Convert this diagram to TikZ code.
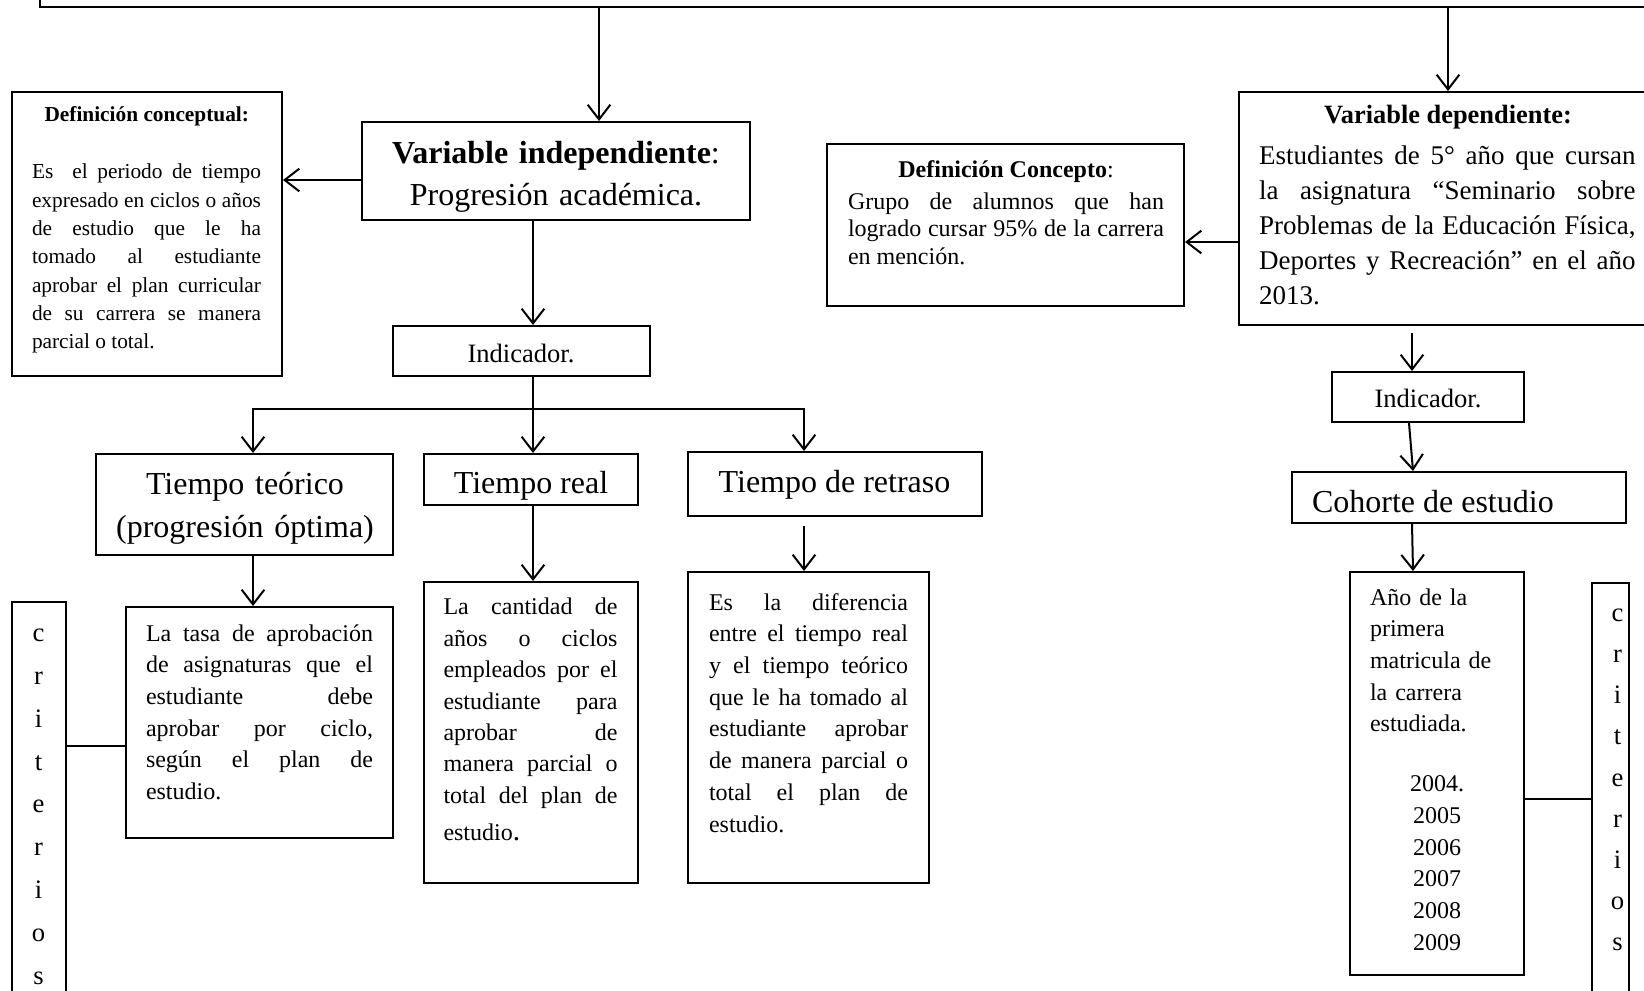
\documentclass[tikz,border=0pt]{standalone}
\usepackage{fontspec}
\setmainfont{Liberation Serif}
\usetikzlibrary{arrows.meta,fit}

% font size and leading, in pt
\newcommand\fsz[2]{\fontsize{#1}{#2}\selectfont}

\begin{document}
\tolerance=10000 \hyphenpenalty=10000 \parindent=0pt
\begin{tikzpicture}[x=0.75pt,y=-0.75pt,
  box/.style={draw,line width=1.5pt,inner sep=0pt,rectangle},
  arr/.style={line width=1.5pt,-{Straight Barb[length=11pt,width=17pt]}},
  lnk/.style={line width=1.5pt},
  txt/.style={inner sep=0pt,outer sep=0pt},
  para/.style={txt,anchor=north west,align=justify,text width=#1},
  vert/.style={txt,anchor=north,align=center,font=\fsz{20}{#1}}]

\useasboundingbox (0,0) rectangle (1644,990);

% ---------- frames ----------
\node[box,fit={(40,-60)(1700,7.3)}]      (top)   {};
\node[box,fit={(11.5,92)(282,376)}]      (defc)  {};
\node[box,fit={(362,122)(750,220)}]      (vi)    {};
\node[box,fit={(393,326)(650,376)}]      (ind1)  {};
\node[box,fit={(96,454)(393,555)}]       (tt)    {};
\node[box,fit={(424,454)(638,505)}]      (tr)    {};
\node[box,fit={(688,452)(982,516)}]      (tdr)   {};
\node[box,fit={(126,607)(393,838)}]      (tasa)  {};
\node[box,fit={(424,582)(638,883)}]      (cant)  {};
\node[box,fit={(688,572)(929,883)}]      (esla)  {};
\node[box,fit={(11.5,602)(66,1060)}]     (crit1) {};
\node[box,fit={(827,144)(1184,306)}]     (dcon)  {};
\node[box,fit={(1239,92)(1700,325)}]     (vd)    {};
\node[box,fit={(1332,372)(1524,422)}]    (ind2)  {};
\node[box,fit={(1292,472)(1626,523)}]    (coh)   {};
\node[box,fit={(1350,572)(1524,975)}]    (ano)   {};
\node[box,fit={(1592,583)(1629,1060)}]   (crit2) {};

% ---------- texts ----------
\node[txt,anchor=base,font=\fsz{16}{21.2}\bfseries] (defc-h) at (146.75,121) {Definición conceptual:};
\node[para=171.75pt,font=\fsz{16}{21.2}] (defc-t) at (32,159.2)
  {\strut Es\ \ el periodo de tiempo\linebreak expresado en ciclos o años\linebreak de estudio que le ha\linebreak tomado al estudiante\linebreak aprobar el plan curricular\linebreak de su carrera se manera\linebreak parcial o total.};

\node[txt,anchor=north,align=center,text width=285pt,font=\fsz{24}{31.5}] (vi-t) at (556,133.6)
  {\strut\textbf{Variable independiente}:\\Progresión académica.};

\node[txt,anchor=base,font=\fsz{19.9}{24}] (ind1-t) at (521,362) {Indicador.};

\node[txt,anchor=north,align=center,text width=220pt,font=\fsz{24}{32.25}] (tt-t) at (245,463.9)
  {\strut Tiempo teórico\\(progresión óptima)};
\node[txt,anchor=base,font=\fsz{24}{28}] (tr-t) at (531,493) {Tiempo real};
\node[txt,anchor=base,font=\fsz{24}{28}] (tdr-t) at (834.5,492) {Tiempo de retraso};

\node[para=170.25pt,font=\fsz{18}{23.8}] (tasa-t) at (146,618.8)
  {\strut La tasa de aprobación\linebreak de asignaturas que el\linebreak estudiante debe\linebreak aprobar por ciclo,\linebreak según el plan de\linebreak estudio.};
\node[para=130.5pt,font=\fsz{18}{23.6}] (cant-t) at (443.5,592.6)
  {\strut La cantidad de\linebreak años o ciclos\linebreak empleados por el\linebreak estudiante para\linebreak aprobar de\linebreak manera parcial o\linebreak total del plan de{\parfillskip=0pt\par}\vspace{4pt}%
   estudio{\fontsize{22}{23.6}\selectfont.}};
\node[para=149.25pt,font=\fsz{18}{23.8}] (esla-t) at (709,587.8)
  {\strut Es la diferencia\linebreak entre el tiempo real\linebreak y el tiempo teórico\linebreak que le ha tomado al\linebreak estudiante aprobar\linebreak de manera parcial o\linebreak total el plan de\linebreak estudio.};

\node[vert=32.1] (crit1-t) at (38.5,611.7) {\strut c\\r\\i\\t\\e\\r\\i\\o\\s};

\node[txt,anchor=base,font=\fsz{18}{20.8}] (dcon-h) at (1006,177) {\textbf{Definición Concepto}:};
\node[para=237pt,font=\fsz{18}{20.8}] (dcon-t) at (848,189.6)
  {\strut Grupo de alumnos que han\linebreak logrado cursar 95\% de la carrera\linebreak en mención.};

\node[txt,anchor=base,font=\fsz{19.8}{24}\bfseries] (vd-h) at (1448,123) {Variable dependiente:};
\node[para=282.4pt,font=\fsz{20.25}{26.25}] (vd-t) at (1259,139.5)
  {\strut Estudiantes de 5° año que cursan\linebreak la asignatura “Seminario sobre\linebreak Problemas de la Educación Física,\linebreak Deportes y Recreación” en el año\linebreak 2013.};

\node[txt,anchor=base,font=\fsz{19.9}{24}] (ind2-t) at (1428,407) {Indicador.};
\node[txt,anchor=base west,font=\fsz{24}{28}] (coh-t) at (1312,512) {Cohorte de estudio};

\node[txt,anchor=north west,text width=100.5pt,align=left,font=\fsz{18}{23.8}] (ano-t) at (1370,582.8)
  {\strut Año de la\\primera\\matricula de\\la carrera\\estudiada.\par\vspace{21pt}%
   {\centering 2004.\\2005\\2006\\2007\\2008\\2009\par}};

\node[vert=30.8] (crit2-t) at (1617.5,593) {\strut c\\r\\i\\t\\e\\r\\i\\o\\s};

% ---------- connector guides ----------
\coordinate (xTopVI) at (599,0);
\coordinate (xTopVD) at (1448,0);
\coordinate (xMid)   at (533,0);
\coordinate (xLeft)  at (253,0);
\coordinate (xRight) at (804,0);
\coordinate (yBus)   at (0,409);
\coordinate (yDefc)  at (0,180);
\coordinate (yDcon)  at (0,242);
\coordinate (yCrit1) at (0,746);
\coordinate (yCrit2) at (0,799);
\coordinate (xInd2)  at (1412,0);
\coordinate (xInd2b) at (1409,0);
\coordinate (xCoh)   at (1413,0);

% ---------- left branch ----------
\draw[arr] (top.south -| xTopVI) -- (vi.north -| xTopVI);
\draw[arr] (vi.west |- yDefc) -- (defc.east |- yDefc);
\draw[arr] (vi.south -| xMid) -- (ind1.north -| xMid);
\draw[arr] (ind1.south -| xMid) -- (tr.north -| xMid);
\draw[arr] (xMid |- yBus) -| (tt.north -| xLeft);
\draw[arr] (xMid |- yBus) -| (tdr.north -| xRight);
\draw[arr] (tt.south -| xLeft) -- (tasa.north -| xLeft);
\draw[arr] (tr.south -| xMid) -- (cant.north -| xMid);
\draw[arr,shorten <=6.75pt] (tdr.south -| xRight) -- (esla.north -| xRight);
\draw[lnk] (crit1.east |- yCrit1) -- (tasa.west |- yCrit1);

% ---------- right branch ----------
\draw[arr] (top.south -| xTopVD) -- (vd.north -| xTopVD);
\draw[arr] (vd.west |- yDcon) -- (dcon.east |- yDcon);
\draw[arr,shorten <=5.25pt] (vd.south -| xInd2) -- (ind2.north -| xInd2);
\draw[arr] (ind2.south -| xInd2b) -- (coh.north -| xCoh);
\draw[arr] (coh.south -| xInd2) -- (ano.north -| xCoh);
\draw[lnk] (ano.east |- yCrit2) -- (crit2.west |- yCrit2);

\end{tikzpicture}
\end{document}
